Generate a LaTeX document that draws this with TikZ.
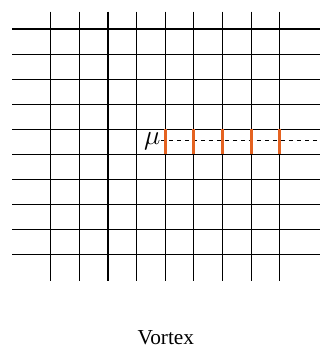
\documentclass[tikz,border=0pt]{standalone}
\usepackage{fontspec}
\setmainfont{Liberation Serif}
\begin{document}
\begin{tikzpicture}[x=21.49pt, y=-18.83pt, line width=0.8pt]
    \tikzset{gridline/.style={black}, link/.style={line width=2.3pt, draw={rgb,255:red,228;green,98;blue,32}}}
    \useasboundingbox (-1.77,-1.155) rectangle (9.82,13.19);
    % lattice
    \foreach \j in {0,...,9} \draw[gridline] (-1.34,\j) -- (9.40,\j);
    \foreach \i in {0,...,8} \draw[gridline] (\i,-0.69) -- (\i,10.04);
    % flux line and flipped links
    \node[inner sep=0pt, anchor=east, font=\fontsize{20}{24}\selectfont] (mu) at (3.85,4.46) {$\mu$};
    \coordinate (end) at (9.40,4.46);
    \draw[dashed, dash pattern=on 3pt off 3pt] (mu.east) -- (end);
    \foreach \i in {4,...,8} \draw[link] (\i,3.97) -- (\i,5.0);
    \node[font=\fontsize{16}{19}\selectfont] (title) at (4.02,12.3) {Vortex};
\end{tikzpicture}
\end{document}
